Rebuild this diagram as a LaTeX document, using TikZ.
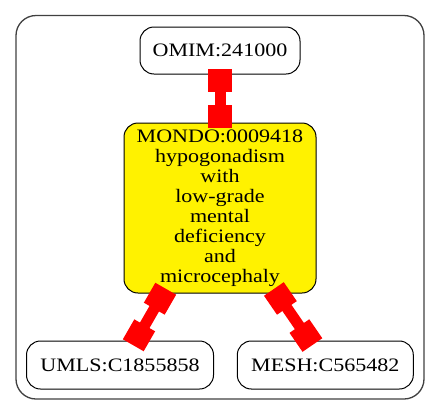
\documentclass[tikz,border=0pt]{standalone}
\usepackage{fontspec}
\setmainfont[FakeStretch=1.16]{Liberation Serif}
\usetikzlibrary{arrows.meta}

\tikzset{
  term/.style={rectangle, draw=black, line width=1pt,
    rounded corners=14pt, align=center, inner sep=0pt,
    font=\fontsize{19}{20}\selectfont},
  hub/.style={term, fill=yellow},
  link/.style={red, line width=11pt,
    {Square[length=23pt,width=24pt]}-{Square[length=23pt,width=24pt]},
    shorten <=-5.5pt, shorten >=-5.5pt},
  frame/.style={draw=black!75, line width=1.3pt, rounded corners=20pt}
}

\begin{document}
\begin{tikzpicture}[x=1pt, y=-1pt]

    \useasboundingbox (0,0) rectangle (440,416);

    % cluster
    \draw[frame] (16,15.5) rectangle (424,399);

    \node[term,
    minimum width=160pt,
    minimum height=47pt] (omim) at (220,50.5) {OMIM:241000};

    \node[hub,
    minimum width=192pt,
    minimum height=170pt] (mondo) at (220,208)
      {MONDO:0009418\\hypogonadism\\with\\low-grade\\mental\\deficiency\\and\\microcephaly};

    \node[term,
    minimum width=187pt,
    minimum height=48pt] (umls) at (120,365) {UMLS:C1855858};

    \node[term,
    minimum width=176pt,
    minimum height=48pt] (mesh) at (325.3,365) {MESH:C565482};

    \draw[link] (omim)--(mondo);
    \draw[link] ([xshift=-57pt]mondo.south)--([xshift=16pt]umls.north);
    \draw[link] ([xshift=57pt]mondo.south)--([xshift=-16pt]mesh.north);

\end{tikzpicture}
\end{document}
